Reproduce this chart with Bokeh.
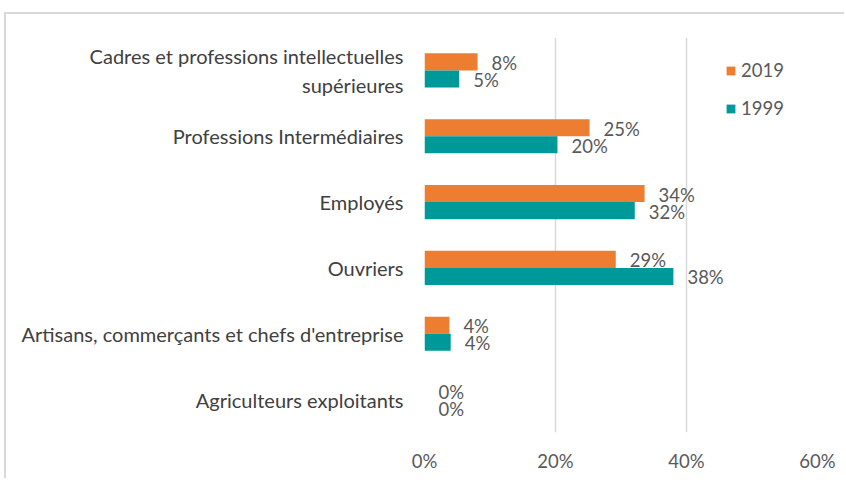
from bokeh.plotting import figure
from bokeh.models import FactorRange, ColumnDataSource, FixedTicker, Range1d
from bokeh.transform import dodge
from bokeh.embed import file_html
from bokeh.resources import INLINE
from bokeh.core.properties import value

categories = [
    "Cadres et professions intellectuelles\nsupérieures",
    "Professions Intermédiaires",
    "Employés",
    "Ouvriers",
    "Artisans, commerçants et chefs d'entreprise",
    "Agriculteurs exploitants",
]
values_2019 = [8.1, 25.2, 33.6, 29.2, 3.8, 0.0]
values_1999 = [5.3, 20.3, 32.1, 38.0, 4.0, 0.0]
series_names = ["2019", "1999"]
x_ticks = [0, 20, 40, 60]

FONT = "Lato"
ORANGE = "#ED7D31"
TEAL = "#009999"
NUM_SIZE = "18.5px"

src = ColumnDataSource(dict(
    cat=categories,
    v2019=values_2019,
    v1999=values_1999,
    l2019=[f"{round(v)}%" for v in values_2019],
    l1999=[f"{round(v)}%" for v in values_1999],
))

p = figure(
    width=840, height=466,
    y_range=FactorRange(factors=list(reversed(categories))),
    x_range=Range1d(0, 60),
    output_backend="svg", toolbar_location=None,
    min_border_left=418, min_border_right=29, min_border_top=23, min_border_bottom=48,
)
p.styles = {"margin-left": "4px", "margin-top": "12px",
            "border-top": "2px solid #d9d9d9", "border-left": "2px solid #d9d9d9"}
p.outline_line_color = None

BH = 0.26
p.hbar(y=dodge("cat", BH / 2, range=p.y_range), right="v2019", left=0, height=BH,
       source=src, color=ORANGE, line_color=None, legend_label=series_names[0])
p.hbar(y=dodge("cat", -BH / 2, range=p.y_range), right="v1999", left=0, height=BH,
       source=src, color=TEAL, line_color=None, legend_label=series_names[1])

p.text(x="v2019", y=dodge("cat", BH / 2, range=p.y_range), text="l2019", source=src,
       x_offset=14, y_offset=1, text_baseline="middle", text_align="left",
       text_font=value(FONT), text_font_size=NUM_SIZE, text_color="#595959")
p.text(x="v1999", y=dodge("cat", -BH / 2, range=p.y_range), text="l1999", source=src,
       x_offset=14, y_offset=1, text_baseline="middle", text_align="left",
       text_font=value(FONT), text_font_size=NUM_SIZE, text_color="#595959")

p.xaxis.ticker = FixedTicker(ticks=x_ticks)
p.xaxis.major_label_overrides = {t: f"{t}%" for t in x_ticks}
for ax in (p.xaxis, p.yaxis):
    ax.axis_line_color = None
    ax.major_tick_line_color = None
    ax.minor_tick_line_color = None
    ax.major_label_text_font = FONT
p.xaxis.major_label_text_font_size = NUM_SIZE
p.yaxis.major_label_text_font_size = "20px"
p.xaxis.major_label_text_color = "#595959"
p.yaxis.major_label_text_color = "#404040"
p.xaxis.major_label_standoff = 11
p.yaxis.major_label_standoff = 15

p.ygrid.grid_line_color = None
p.xgrid.grid_line_color = "#d9d9d9"
p.xgrid.grid_line_width = 1.5

lg = p.legend[0]
lg.location = (301, 313)
lg.background_fill_alpha = 0
lg.border_line_color = None
lg.padding = 0
lg.margin = 0
lg.glyph_width = 11
lg.glyph_height = 11
lg.label_standoff = 5
lg.spacing = 16
lg.label_text_font = FONT
lg.label_text_font_size = NUM_SIZE
lg.label_text_color = "#595959"

open("out.html", "w").write(file_html(p, INLINE))
